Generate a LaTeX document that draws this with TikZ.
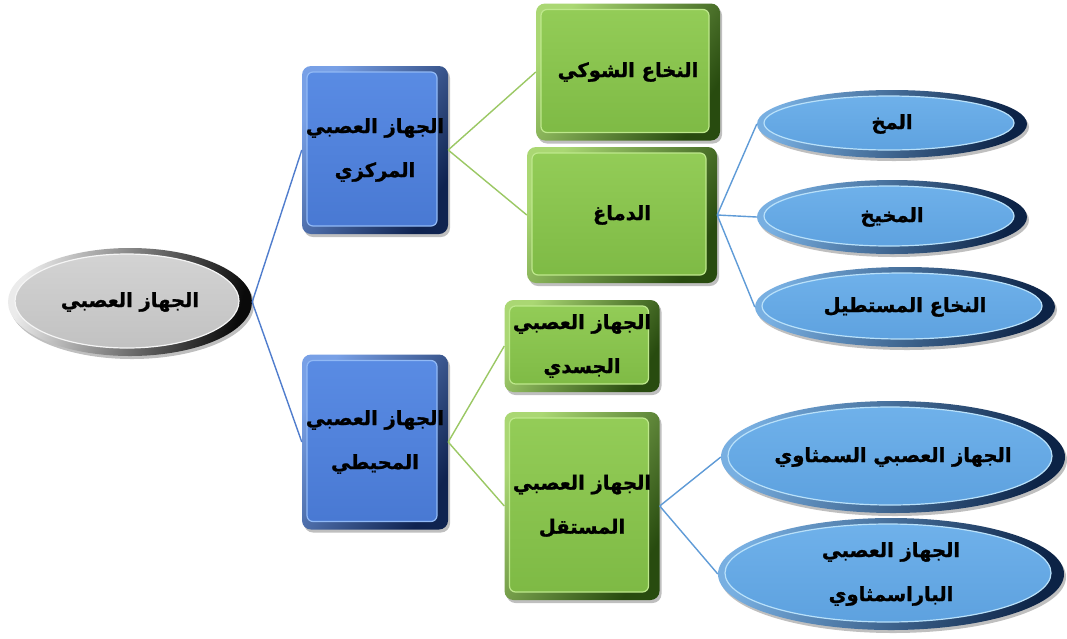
\documentclass[tikz,border=0pt]{standalone}
\usepackage{fontspec}
\newfontfamily\arabicfont[Script=Arabic, FakeBold=1.2]{DejaVu Sans}
\TeXXeTstate=1
\usetikzlibrary{shapes.geometric,calc,shadows}

% palette
\definecolor{bboxlight}{RGB}{120,160,230}
\definecolor{bboxdark}{RGB}{15,35,80}
\definecolor{bboxtop}{RGB}{90,140,228}
\definecolor{bboxbot}{RGB}{72,120,210}
\definecolor{bboxline}{RGB}{145,185,245}
\definecolor{gboxlight}{RGB}{170,215,115}
\definecolor{gboxdark}{RGB}{40,75,15}
\definecolor{gboxtop}{RGB}{148,205,88}
\definecolor{gboxbot}{RGB}{125,185,68}
\definecolor{gboxline}{RGB}{190,232,140}
\definecolor{ovlight}{RGB}{120,175,225}
\definecolor{ovdark}{RGB}{12,35,70}
\definecolor{ovtop}{RGB}{112,178,235}
\definecolor{ovbot}{RGB}{92,160,222}
\definecolor{ovline}{RGB}{185,225,250}
\definecolor{grlight}{RGB}{235,235,235}
\definecolor{grdark}{RGB}{10,10,10}
\definecolor{grtop}{RGB}{212,212,212}
\definecolor{grbot}{RGB}{192,192,192}
\definecolor{grline}{RGB}{245,245,245}
\definecolor{linkblue}{RGB}{80,125,205}
\definecolor{linkgreen}{RGB}{155,200,100}
\definecolor{linksky}{RGB}{95,155,215}

\tikzset{
  label text/.style={font=\arabicfont\bfseries\fontsize{19.5}{44}\selectfont, text=black, align=center, inner sep=0pt},
  % bevelled rounded box: shaded rim, flat face inset
  bevelbox/.style n args={5}{label text, rectangle, rounded corners=9pt,
    top color=#1, bottom color=#2, shading angle=58,
    drop shadow={shadow xshift=2pt, shadow yshift=-3pt, fill=black, opacity=0.25},
    path picture={
      \path[rounded corners=6pt, top color=#3, bottom color=#4, draw=#5, line width=1.2pt]
        ([shift={(5pt,8pt)}]path picture bounding box.south west) rectangle
        ([shift={(-11pt,-6pt)}]path picture bounding box.north east);
    }},
  % bevelled oval: shaded rim, flat face inset
  beveloval/.style n args={5}{label text, ellipse,
    top color=#1, bottom color=#2, shading angle=76,
    drop shadow={shadow xshift=2pt, shadow yshift=-3pt, fill=black, opacity=0.25},
    path picture={
      \path[top color=#3, bottom color=#4, draw=#5, line width=1.2pt]
        let \p1=(path picture bounding box.south west),
            \p2=(path picture bounding box.north east) in
        ($(\p1)!0.5!(\p2)+(-3pt,1pt)$) ellipse ({(\x2-\x1)/2-10pt} and {(\y2-\y1)/2-7pt});
    }},
  bluebox/.style={bevelbox={bboxlight}{bboxdark}{bboxtop}{bboxbot}{bboxline}},
  greenbox/.style={bevelbox={gboxlight}{gboxdark}{gboxtop}{gboxbot}{gboxline}},
  blueoval/.style={beveloval={ovlight}{ovdark}{ovtop}{ovbot}{ovline}},
  greyoval/.style={beveloval={grlight}{grdark}{grtop}{grbot}{grline}},
  link/.style={line width=1.4pt},
}

\begin{document}
\begin{tikzpicture}[x=1pt, y=-1pt]
  \useasboundingbox[fill=white] (0,0) rectangle (1067,638);

  % root
  \node[greyoval, minimum width=244pt, minimum height=108pt] (root) at (130,302)
    {\beginR الجهاز العصبي\endR};

  % first level
  \node[bluebox, minimum width=146pt, minimum height=168pt] (cns) at (375,150)
    {\beginR الجهاز العصبي\endR\\\beginR المركزي\endR};
  \node[bluebox, minimum width=146pt, minimum height=175pt] (pns) at (375,442)
    {\beginR الجهاز العصبي\endR\\\beginR المحيطي\endR};

  % second level
  \node[greenbox, minimum width=184pt, minimum height=137pt] (spinal) at (628,72)
    {\beginR النخاع الشوكي\endR};
  \node[greenbox, minimum width=190pt, minimum height=136pt] (brain) at (622,215)
    {\beginR الدماغ\endR};
  \node[greenbox, minimum width=155pt, minimum height=92pt] (somatic) at (582,346)
    {\beginR الجهاز العصبي\endR\\\beginR الجسدي\endR};
  \node[greenbox, minimum width=155pt, minimum height=188pt] (auto) at (582,506)
    {\beginR الجهاز العصبي\endR\\\beginR المستقل\endR};

  % third level
  \node[blueoval, minimum width=270pt, minimum height=68pt] (cerebrum) at (892,124)
    {\beginR المخ\endR};
  \node[blueoval, minimum width=270pt, minimum height=74pt] (cerebellum) at (892,217)
    {\beginR المخيخ\endR};
  \node[blueoval, minimum width=300pt, minimum height=80pt] (medulla) at (905,307)
    {\beginR النخاع المستطيل\endR};
  \node[blueoval, minimum width=344pt, minimum height=112pt] (symp) at (893,457)
    {\beginR الجهاز العصبي السمثاوي\endR};
  \node[blueoval, minimum width=346pt, minimum height=112pt] (para) at (891,574)
    {\beginR الجهاز العصبي\endR\\\beginR الباراسمثاوي\endR};

  % connectors
  \draw[link, linkblue] (root.east) -- (cns.west);
  \draw[link, linkblue] (root.east) -- (pns.west);
  \draw[link, linkgreen] (cns.east) -- (spinal.west);
  \draw[link, linkgreen] (cns.east) -- (brain.west);
  \draw[link, linkgreen] (pns.east) -- (somatic.west);
  \draw[link, linkgreen] (pns.east) -- (auto.west);
  \draw[link, linksky] (brain.east) -- (cerebrum.west);
  \draw[link, linksky] (brain.east) -- (cerebellum.west);
  \draw[link, linksky] (brain.east) -- (medulla.west);
  \draw[link, linksky] (auto.east) -- (symp.west);
  \draw[link, linksky] (auto.east) -- (para.west);
\end{tikzpicture}
\end{document}
